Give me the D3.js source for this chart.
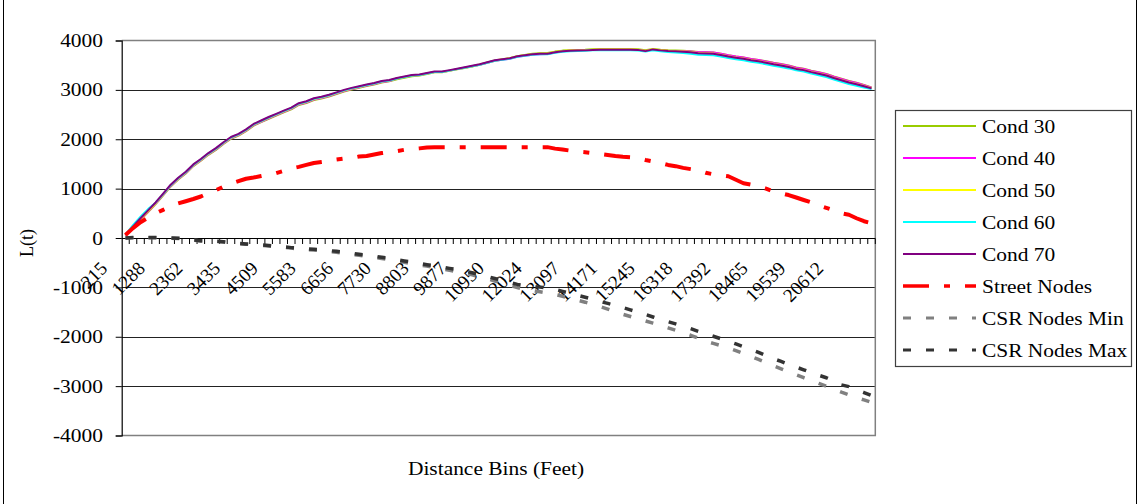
<!DOCTYPE html>
<html>
<head>
<meta charset="utf-8">
<script src="https://cdn.jsdelivr.net/npm/d3@7"></script>
<style>
  html, body { margin: 0; padding: 0; background: #fff; }
  svg { display: block; }
</style>
</head>
<body>
<svg id="chart" width="1139" height="504"></svg>
<script>
// Distance bins (feet), one category per bin
const categories = [
  215, 429, 644, 859, 1074, 1288, 1503, 1718, 1932, 2147,
  2362, 2577, 2791, 3006, 3221, 3435, 3650, 3865, 4080, 4294,
  4509, 4724, 4938, 5153, 5368, 5583, 5797, 6012, 6227, 6441,
  6656, 6871, 7086, 7300, 7515, 7730, 7944, 8159, 8374, 8588,
  8803, 9018, 9233, 9447, 9662, 9877, 10091, 10306, 10521, 10736,
  10950, 11165, 11380, 11594, 11809, 12024, 12239, 12453, 12668, 12883,
  13097, 13312, 13527, 13742, 13956, 14171, 14386, 14600, 14815, 15030,
  15245, 15459, 15674, 15889, 16103, 16318, 16533, 16748, 16962, 17177,
  17392, 17606, 17821, 18036, 18251, 18465, 18680, 18895, 19109, 19324,
  19539, 19754, 19968, 20183, 20398, 20612, 20827, 21042, 21257, 21471
];

// Every fifth bin carries a tick label
const labelStep = 5;

const yTickValues = [4000, 3000, 2000, 1000, 0, -1000, -2000, -3000, -4000];

const cond30 = [
  50, 210, 370, 525, 685, 865, 1045, 1185, 1305, 1455,
  1565, 1685, 1785, 1905, 2010, 2075, 2165, 2275, 2345, 2415,
  2480, 2545, 2605, 2695, 2735, 2795, 2825, 2865, 2915, 2965,
  3005, 3040, 3080, 3110, 3150, 3175, 3215, 3245, 3275, 3290,
  3320, 3355, 3355, 3385, 3415, 3445, 3475, 3510, 3550, 3590,
  3615, 3640, 3680, 3705, 3730, 3740, 3745, 3775, 3795, 3805,
  3810, 3815, 3825, 3830, 3830, 3830, 3830, 3830, 3825, 3805,
  3830, 3815, 3805, 3800, 3790, 3780, 3765, 3760, 3755, 3730,
  3700, 3675, 3655, 3625, 3605, 3580, 3550, 3525, 3495, 3455,
  3430, 3390, 3355, 3320, 3270, 3225, 3180, 3145, 3100, 3050
];

const cond40 = [
  50, 215, 380, 535, 695, 875, 1055, 1195, 1315, 1465,
  1575, 1695, 1795, 1915, 2020, 2085, 2175, 2285, 2355, 2425,
  2490, 2555, 2615, 2705, 2745, 2805, 2835, 2875, 2925, 2975,
  3015, 3050, 3090, 3120, 3160, 3180, 3230, 3260, 3290, 3300,
  3330, 3360, 3360, 3390, 3420, 3450, 3480, 3510, 3550, 3590,
  3610, 3630, 3670, 3690, 3710, 3720, 3725, 3755, 3780, 3790,
  3795, 3800, 3810, 3815, 3815, 3815, 3815, 3815, 3810, 3790,
  3815, 3800, 3790, 3785, 3780, 3775, 3760, 3760, 3755, 3730,
  3700, 3675, 3655, 3625, 3605, 3575, 3545, 3520, 3490, 3450,
  3425, 3385, 3350, 3315, 3265, 3220, 3175, 3140, 3095, 3045
];

const cond50 = [
  55, 220, 385, 545, 705, 885, 1065, 1205, 1325, 1475,
  1585, 1705, 1805, 1925, 2030, 2095, 2185, 2295, 2365, 2435,
  2500, 2565, 2625, 2715, 2755, 2815, 2845, 2885, 2935, 2985,
  3025, 3060, 3100, 3130, 3170, 3190, 3230, 3260, 3290, 3300,
  3330, 3360, 3360, 3390, 3420, 3450, 3480, 3515, 3555, 3595,
  3620, 3640, 3680, 3700, 3720, 3730, 3735, 3765, 3785, 3795,
  3800, 3805, 3815, 3820, 3820, 3820, 3820, 3820, 3815, 3790,
  3825, 3805, 3790, 3785, 3775, 3765, 3745, 3740, 3735, 3710,
  3680, 3655, 3635, 3605, 3585, 3555, 3525, 3500, 3470, 3430,
  3405, 3365, 3330, 3295, 3245, 3200, 3155, 3120, 3080, 3035
];

const cond60 = [
  70, 260, 430, 585, 715, 890, 1070, 1210, 1330, 1480,
  1590, 1710, 1810, 1930, 2035, 2100, 2190, 2300, 2370, 2440,
  2505, 2570, 2630, 2720, 2760, 2820, 2850, 2890, 2940, 2990,
  3030, 3065, 3100, 3130, 3170, 3190, 3230, 3260, 3290, 3300,
  3330, 3360, 3360, 3390, 3420, 3450, 3480, 3510, 3550, 3590,
  3610, 3630, 3670, 3690, 3710, 3720, 3720, 3750, 3770, 3780,
  3785, 3790, 3800, 3805, 3805, 3805, 3805, 3805, 3795, 3775,
  3800, 3780, 3765, 3755, 3745, 3730, 3710, 3705, 3700, 3675,
  3645, 3620, 3600, 3570, 3550, 3520, 3490, 3465, 3435, 3395,
  3370, 3330, 3295, 3260, 3210, 3165, 3120, 3085, 3050, 3015
];

const cond70 = [
  60, 230, 400, 560, 720, 900, 1080, 1220, 1340, 1490,
  1600, 1720, 1820, 1940, 2045, 2110, 2200, 2310, 2380, 2450,
  2515, 2580, 2640, 2730, 2770, 2830, 2860, 2900, 2950, 3000,
  3040, 3075, 3110, 3140, 3180, 3200, 3240, 3270, 3300, 3310,
  3340, 3370, 3370, 3400, 3430, 3460, 3490, 3520, 3560, 3600,
  3620, 3640, 3680, 3700, 3720, 3730, 3730, 3760, 3780, 3790,
  3795, 3800, 3810, 3815, 3815, 3815, 3815, 3815, 3810, 3785,
  3820, 3800, 3785, 3780, 3770, 3760, 3740, 3735, 3730, 3705,
  3675, 3650, 3630, 3600, 3580, 3550, 3520, 3495, 3465, 3425,
  3400, 3360, 3325, 3290, 3240, 3195, 3150, 3115, 3075, 3030
];

const streetNodes = [
  60, 200, 320, 410, 500, 570, 640, 700, 745, 790,
  840, 910, 970, 1040, 1100, 1150, 1200, 1225, 1255, 1285,
  1313, 1360, 1410, 1440, 1480, 1520, 1540, 1560, 1590, 1610,
  1620, 1650, 1660, 1690, 1720, 1740, 1760, 1786, 1800, 1815,
  1835, 1840, 1840, 1840, 1840, 1840, 1840, 1840, 1840, 1840,
  1840, 1840, 1840, 1840, 1840, 1840, 1840, 1810, 1792, 1770,
  1750, 1738, 1720, 1700, 1680, 1660, 1645, 1635, 1620, 1580,
  1550, 1520, 1480, 1455, 1420, 1395, 1370, 1320, 1290, 1270,
  1250, 1180, 1110, 1080, 1050, 1000, 940, 905, 870, 820,
  770, 720, 660, 610, 560, 500, 470, 400, 340, 300
];

const csrNodesMin = [
  0, 5, 5, 5, 5, 0, -5, -10, -25, -45,
  -60, -65, -70, -80, -100, -115, -125, -140, -150, -160,
  -175, -190, -205, -220, -235, -245, -255, -270, -290, -310,
  -330, -350, -370, -390, -415, -435, -465, -490, -520, -545,
  -570, -600, -625, -655, -680, -710, -745, -785, -825, -870,
  -915, -960, -1005, -1040, -1065, -1090, -1115, -1145, -1180, -1220,
  -1260, -1300, -1345, -1390, -1440, -1495, -1545, -1590, -1637, -1680,
  -1725, -1772, -1820, -1870, -1920, -1970, -2030, -2090, -2135, -2180,
  -2224, -2280, -2340, -2400, -2460, -2525, -2590, -2650, -2710, -2770,
  -2830, -2890, -2945, -3000, -3060, -3120, -3175, -3230, -3280, -3330
];

const csrNodesMax = [
  0, 10, 10, 10, 10, 5, 0, -5, -20, -40,
  -55, -60, -65, -75, -95, -110, -120, -130, -140, -150,
  -165, -180, -195, -205, -220, -230, -240, -255, -270, -290,
  -310, -330, -350, -370, -390, -410, -440, -465, -490, -515,
  -540, -565, -590, -615, -640, -670, -705, -740, -780, -820,
  -860, -900, -940, -965, -980, -995, -1010, -1040, -1080, -1120,
  -1160, -1200, -1240, -1285, -1325, -1365, -1410, -1455, -1500, -1550,
  -1600, -1650, -1695, -1740, -1785, -1835, -1890, -1940, -1990, -2040,
  -2090, -2145, -2200, -2255, -2315, -2380, -2445, -2500, -2560, -2615,
  -2670, -2725, -2780, -2830, -2900, -2975, -3010, -3070, -3130, -3190
];

const seriesNames = ["Cond 30", "Cond 40", "Cond 50", "Cond 60", "Cond 70",
                     "Street Nodes", "CSR Nodes Min", "CSR Nodes Max"];

// Series styling
const seriesList = [
  { name: seriesNames[0], values: cond30, color: "#99CC00", width: 2, dash: null },
  { name: seriesNames[1], values: cond40, color: "#FF00FF", width: 2, dash: null },
  { name: seriesNames[2], values: cond50, color: "#FFFF00", width: 2, dash: null },
  { name: seriesNames[3], values: cond60, color: "#00FFFF", width: 2, dash: null },
  { name: seriesNames[4], values: cond70, color: "#800080", width: 2, dash: null },
  { name: seriesNames[5], values: streetNodes, color: "#FF0000", width: 4, dash: "26,15,6,15" },
  { name: seriesNames[6], values: csrNodesMin, color: "#808080", width: 3.5, dash: "8,15" },
  { name: seriesNames[7], values: csrNodesMax, color: "#333333", width: 3.5, dash: "8,15" }
];

const FONT = "'Liberation Serif', 'Times New Roman', serif";
const svg = d3.select("#chart");

// Outer chart frame
svg.append("line").attr("x1", 3.5).attr("x2", 3.5).attr("y1", 0).attr("y2", 504)
  .attr("stroke", "#000").attr("stroke-width", 1);
svg.append("line").attr("x1", 1136.5).attr("x2", 1136.5).attr("y1", 0).attr("y2", 504)
  .attr("stroke", "#000").attr("stroke-width", 1);

const plot = { left: 121.7, right: 875.3, top: 40.5, bottom: 435.5 };

const x = d3.scaleBand()
  .domain(categories)
  .range([plot.left, plot.right])
  .padding(0);

const y = d3.scaleLinear()
  .domain([-4000, 4000])
  .range([plot.bottom, plot.top]);

const cx = c => x(c) + x.bandwidth() / 2;

// Horizontal text with the slightly wide lettering of the original
function wideText(parent, px, py, str, size, anchor) {
  const g = parent.append("g").attr("transform", `translate(${px},${py}) scale(1.1,1)`);
  return g.append("text")
    .attr("x", 0).attr("y", 0)
    .attr("text-anchor", anchor || "start")
    .attr("font-family", FONT)
    .attr("font-size", size)
    .attr("fill", "#000")
    .text(str);
}

// Gridlines
svg.append("g")
  .selectAll("line")
  .data(yTickValues.filter(v => v !== 0 && v !== 4000 && v !== -4000))
  .join("line")
  .attr("x1", plot.left).attr("x2", plot.right)
  .attr("y1", d => Math.round(y(d)) + 0.5).attr("y2", d => Math.round(y(d)) + 0.5)
  .attr("stroke", "#222").attr("stroke-width", 1);

// Plot-area frame (top, right, bottom)
svg.append("path")
  .attr("d", `M${plot.left},${plot.top}H${plot.right}V${plot.bottom}H${plot.left}`)
  .attr("fill", "none").attr("stroke", "#808080").attr("stroke-width", 1.5);

// Y axis
const yAxis = d3.axisLeft(y).tickValues(yTickValues).tickSize(6).tickFormat("");
const yAxisG = svg.append("g")
  .attr("transform", `translate(${plot.left},0)`)
  .call(yAxis);
yAxisG.select(".domain").attr("stroke", "#000").attr("stroke-width", 1.2);
yAxisG.selectAll(".tick line").attr("stroke", "#000");

yTickValues.forEach(v => {
  wideText(svg, 103, y(v) + 6.5, String(v), "19.5px", "end");
});

// X axis along zero: line, boundary ticks, rotated labels
const y0 = Math.round(y(0)) + 0.5;
svg.append("line")
  .attr("x1", plot.left).attr("x2", plot.right)
  .attr("y1", y0).attr("y2", y0)
  .attr("stroke", "#000").attr("stroke-width", 1.2);

const boundaries = categories.map(c => x(c)).concat([x(categories[categories.length - 1]) + x.bandwidth()]);
svg.append("g")
  .selectAll("line")
  .data(boundaries.slice(1))
  .join("line")
  .attr("x1", d => d).attr("x2", d => d)
  .attr("y1", y0).attr("y2", y0 + 5.5)
  .attr("stroke", "#000").attr("stroke-width", 1);

const labelled = categories.filter((c, i) => i % labelStep === 0);
svg.append("g")
  .selectAll("text")
  .data(labelled)
  .join("text")
  .attr("transform", d => `translate(${cx(d) - 17},${y0 + 31}) rotate(-45)`)
  .attr("text-anchor", "end")
  .attr("font-family", FONT)
  .attr("font-size", "19px")
  .attr("fill", "#000")
  .text(d => d);

// Series lines
const line = d3.line()
  .x((d, i) => cx(categories[i]))
  .y(d => y(d));

const plotG = svg.append("g");
seriesList.forEach(s => {
  plotG.append("path")
    .datum(s.values)
    .attr("d", line)
    .attr("fill", "none")
    .attr("stroke", s.color)
    .attr("stroke-width", s.width)
    .attr("stroke-linejoin", "round")
    .attr("stroke-dasharray", s.dash);
});

// Axis titles
const yTitle = svg.append("g").attr("transform", "translate(33,243) rotate(-90) scale(1,1.05)");
yTitle.append("text")
  .attr("text-anchor", "middle")
  .attr("font-family", FONT)
  .attr("font-size", "18px")
  .attr("fill", "#000")
  .text("L(t)");

wideText(svg, 496, 475, "Distance Bins (Feet)", "19.5px", "middle");

// Legend
const legend = svg.append("g");
legend.append("rect")
  .attr("x", 895.5).attr("y", 110.5)
  .attr("width", 236).attr("height", 256)
  .attr("fill", "#fff").attr("stroke", "#404040").attr("stroke-width", 1.2);

seriesList.forEach((s, i) => {
  const ly = 126 + i * 32;
  legend.append("line")
    .attr("x1", 903).attr("x2", 976)
    .attr("y1", ly).attr("y2", ly)
    .attr("stroke", s.color)
    .attr("stroke-width", s.dash ? s.width - 0.5 : 2)
    .attr("stroke-dasharray", s.dash);
  wideText(legend, 982, ly + 6.5, s.name, "19.5px", "start");
});
</script>
</body>
</html>
